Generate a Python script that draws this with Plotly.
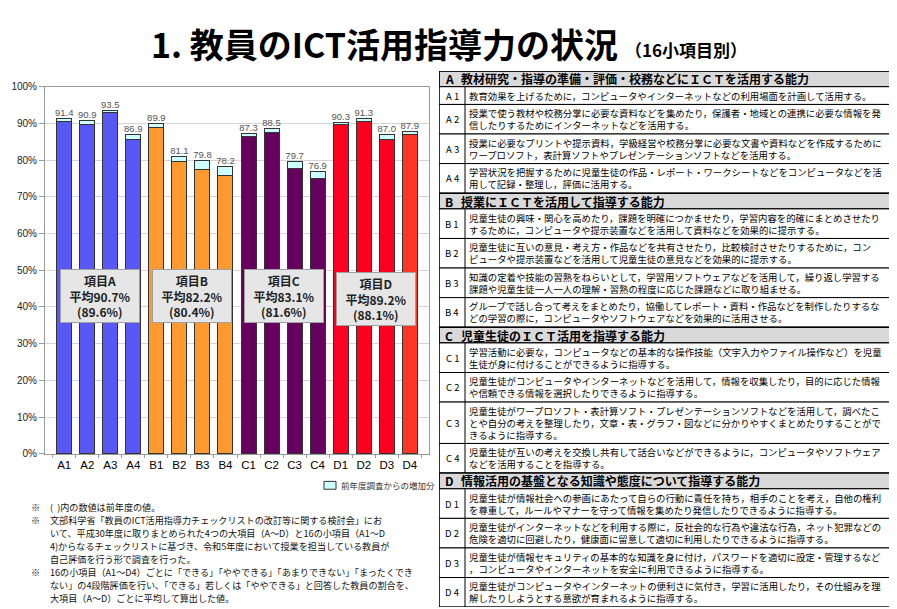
import plotly.graph_objects as go

W, H = 897, 609
JP = "Noto Sans CJK JP"
AR = "Liberation Sans, Arial"

# ---- chart data ----
codes = ['A1', 'A2', 'A3', 'A4', 'B1', 'B2', 'B3', 'B4',
         'C1', 'C2', 'C3', 'C4', 'D1', 'D2', 'D3', 'D4']
this_year = [91.4, 90.9, 93.5, 86.9, 89.9, 81.1, 79.8, 78.2,
             87.3, 88.5, 79.7, 76.9, 90.3, 91.3, 87.0, 87.9]
prev_year = [90.4, 89.7, 93.0, 85.6, 89.0, 79.5, 77.5, 75.9,
             86.3, 87.5, 77.7, 74.9, 89.6, 90.4, 85.7, 87.0]

group_letters = ['A', 'B', 'C', 'D']
group_avg = [90.7, 82.2, 83.1, 89.2]
group_prev_avg = [89.6, 80.4, 81.6, 88.1]

bar_colors = ['#5858F6'] * 4 + ['#FF9A30'] * 4 + ['#66005E'] * 4 + ['#FF0020'] * 3 + ['#FF3526']

# ---- table data ----
header_titles = [
    '教材研究・指導の準備・評価・校務などにＩＣＴを活用する能力',
    '授業にＩＣＴを活用して指導する能力',
    '児童生徒のＩＣＴ活用を指導する能力',
    '情報活用の基盤となる知識や態度について指導する能力',
]
item_texts = [
    '教育効果を上げるために，コンピュータやインターネットなどの利用場面を計画して活用する。',
    '授業で使う教材や校務分掌に必要な資料などを集めたり，保護者・地域との連携に必要な情報を発<br>信したりするためにインターネットなどを活用する。',
    '授業に必要なプリントや提示資料，学級経営や校務分掌に必要な文書や資料などを作成するために<br>ワープロソフト，表計算ソフトやプレゼンテーションソフトなどを活用する。',
    '学習状況を把握するために児童生徒の作品・レポート・ワークシートなどをコンピュータなどを活<br>用して記録・整理し，評価に活用する。',
    '児童生徒の興味・関心を高めたり，課題を明確につかませたり，学習内容を的確にまとめさせたり<br>するために，コンピュータや提示装置などを活用して資料などを効果的に提示する。',
    '児童生徒に互いの意見・考え方・作品などを共有させたり，比較検討させたりするために，コン<br>ピュータや提示装置などを活用して児童生徒の意見などを効果的に提示する。',
    '知識の定着や技能の習熟をねらいとして，学習用ソフトウェアなどを活用して，繰り返し学習する<br>課題や児童生徒一人一人の理解・習熟の程度に応じた課題などに取り組ませる。',
    'グループで話し合って考えをまとめたり，協働してレポート・資料・作品などを制作したりするな<br>どの学習の際に，コンピュータやソフトウェアなどを効果的に活用させる。',
    '学習活動に必要な，コンピュータなどの基本的な操作技能（文字入力やファイル操作など）を児童<br>生徒が身に付けることができるように指導する。',
    '児童生徒がコンピュータやインターネットなどを活用して，情報を収集したり，目的に応じた情報<br>や信頼できる情報を選択したりできるように指導する。',
    '児童生徒がワープロソフト・表計算ソフト・プレゼンテーションソフトなどを活用して，調べたこ<br>とや自分の考えを整理したり，文章・表・グラフ・図などに分かりやすくまとめたりすることがで<br>きるように指導する。',
    '児童生徒が互いの考えを交換し共有して話合いなどができるように，コンピュータやソフトウェア<br>などを活用することを指導する。',
    '児童生徒が情報社会への参画にあたって自らの行動に責任を持ち，相手のことを考え，自他の権利<br>を尊重して，ルールやマナーを守って情報を集めたり発信したりできるように指導する。',
    '児童生徒がインターネットなどを利用する際に，反社会的な行為や違法な行為，ネット犯罪などの<br>危険を適切に回避したり，健康面に留意して適切に利用したりできるように指導する。',
    '児童生徒が情報セキュリティの基本的な知識を身に付け，パスワードを適切に設定・管理するなど<br>，コンピュータやインターネットを安全に利用できるように指導する。',
    '児童生徒がコンピュータやインターネットの便利さに気付き，学習に活用したり，その仕組みを理<br>解したりしようとする意欲が育まれるように指導する。',
]

notes = [
    ('※', '(  )内の数値は前年度の値。'),
    ('※', '文部科学省「教員のICT活用指導力チェックリストの改訂等に関する検討会」にお'),
    ('', 'いて、平成30年度に取りまとめられた4つの大項目（A～D）と16の小項目（A1～D'),
    ('', '4)からなるチェックリストに基づき、令和5年度において授業を担当している教員が'),
    ('', '自己評価を行う形で調査を行った。'),
    ('※', '16の小項目（A1～D4）ごとに「できる」「ややできる」「あまりできない」「まったくでき'),
    ('', 'ない」の4段階評価を行い、「できる」若しくは「ややできる」と回答した教員の割合を、'),
    ('', '大項目（A～D）ごとに平均して算出した値。'),
]


def px(x):
    return x / W


def py(y):
    return 1 - y / H


fig = go.Figure()

fig.add_trace(go.Bar(x=codes, y=prev_year, marker=dict(color=bar_colors, line=dict(color='#333333', width=1)),
                     showlegend=False, hoverinfo='skip'))
fig.add_trace(go.Bar(x=codes, y=[t - p for t, p in zip(this_year, prev_year)],
                     marker=dict(color='#CCFFFF', line=dict(color='#333333', width=1)),
                     showlegend=False, hoverinfo='skip'))
fig.add_trace(go.Scatter(x=codes, y=this_year, mode='text', text=['%.1f' % v for v in this_year],
                         textposition='top center', textfont=dict(family=AR, size=9.5, color='#555555'),
                         showlegend=False, hoverinfo='skip'))

annotations = []
shapes = []

# group average boxes
for g, letter in enumerate(group_letters):
    annotations.append(dict(
        x=4 * g + 1.55, y=43 if g < 3 else 42.3, xref='x', yref='y',
        text='<b>項目%s<br>平均%.1f%%<br>(%.1f%%)</b>' % (letter, group_avg[g], group_prev_avg[g]),
        showarrow=False, font=dict(family=JP, size=12, color='#222222'), width=74,
        bgcolor='#E6E6E6', bordercolor='#A0A0A0', borderwidth=1, borderpad=2,
    ))

# legend
shapes.append(dict(type='rect', xref='paper', yref='paper', x0=px(316), x1=px(328), y0=py(485), y1=py(477),
                   fillcolor='#CCFFFF', line=dict(color='#333333', width=1)))
annotations.append(dict(x=px(331), y=py(481), xref='paper', yref='paper', xanchor='left', yanchor='middle',
                        text='前年度調査からの増加分', showarrow=False,
                        font=dict(family=JP, size=8.5, color='#333333')))

# title
annotations.append(dict(x=px(612), y=py(31), xref='paper', yref='paper', xanchor='right', yanchor='middle',
                        text='<b>1. 教員のICT活用指導力の状況</b>', showarrow=False,
                        font=dict(family=JP, size=34, color='black')))
annotations.append(dict(x=px(615), y=py(37), xref='paper', yref='paper', xanchor='left', yanchor='middle',
                        text='<b>（16小項目別）</b>', showarrow=False,
                        font=dict(family=JP, size=17, color='black')))

# notes
for i, (mark, line) in enumerate(notes):
    yy = py(503 + i * 13.2)
    if mark:
        annotations.append(dict(x=px(21), y=yy, xref='paper', yref='paper', xanchor='left', yanchor='middle',
                                text=mark, showarrow=False, font=dict(family=JP, size=9.1, color='#111111')))
    annotations.append(dict(x=px(40), y=yy, xref='paper', yref='paper', xanchor='left', yanchor='middle',
                            text=line, showarrow=False, font=dict(family=JP, size=9.1, color='#111111')))

# table (drawn on its own axes, units = pixels)
TW = 463
code_w = 26
y = 0
for g, letter in enumerate(group_letters):
    h = 16
    shapes.append(dict(type='rect', xref='x2', yref='y2', x0=0, x1=TW, y0=y, y1=y + h,
                       fillcolor='#D9D9D9', line=dict(color='black', width=1.5)))
    annotations.append(dict(x=4, y=y + h / 2, xref='x2', yref='y2', xanchor='left', yanchor='middle',
                            text='<b>%s</b>' % letter, showarrow=False, font=dict(family=JP, size=12, color='black')))
    annotations.append(dict(x=20, y=y + h / 2, xref='x2', yref='y2', xanchor='left', yanchor='middle',
                            text='<b>%s</b>' % header_titles[g], showarrow=False,
                            font=dict(family=JP, size=12, color='black')))
    y += h
    for k in range(4):
        idx = 4 * g + k
        txt = item_texts[idx]
        n = txt.count('<br>') + 1
        h = 18 if n == 1 else 6 + 12 * n
        shapes.append(dict(type='rect', xref='x2', yref='y2', x0=0, x1=TW, y0=y, y1=y + h,
                           fillcolor='white', line=dict(color='black', width=1)))
        shapes.append(dict(type='line', xref='x2', yref='y2', x0=code_w, x1=code_w, y0=y, y1=y + h,
                           line=dict(color='black', width=1)))
        annotations.append(dict(x=code_w / 2, y=y + h / 2, xref='x2', yref='y2', xanchor='center',
                                yanchor='middle', text='%s %s' % (letter, k + 1), showarrow=False,
                                font=dict(family=JP, size=9.5, color='black')))
        annotations.append(dict(x=code_w + 2, y=y + h / 2, xref='x2', yref='y2', xanchor='left',
                                yanchor='middle', align='left', text=txt, showarrow=False,
                                font=dict(family=JP, size=9.4, color='black')))
        y += h
table_h = y
shapes.append(dict(type='rect', xref='x2', yref='y2', x0=0, x1=TW, y0=0, y1=table_h,
                   line=dict(color='black', width=1.2)))

fig.add_trace(go.Scatter(x=[0, TW], y=[0, table_h], xaxis='x2', yaxis='y2', mode='markers',
                         marker=dict(opacity=0), showlegend=False, hoverinfo='skip'))

fig.update_layout(
    width=W, height=H,
    margin=dict(l=0, r=0, t=0, b=0),
    paper_bgcolor='white', plot_bgcolor='white',
    barmode='stack', bargap=0.35,
    showlegend=False,
    xaxis=dict(domain=[px(37), px(421)], tickfont=dict(family=AR, size=11.5, color='black'), tickangle=0,
               showline=True, linecolor='#9A9A9A', mirror=True, ticks='outside', tickson='boundaries',
               ticklen=3, tickcolor='#9A9A9A', showgrid=False, fixedrange=True),
    yaxis=dict(domain=[py(449), py(75)], range=[0, 100], dtick=10, ticksuffix='%',
               tickfont=dict(family=AR, size=10, color='#222222'), showgrid=True, gridcolor='#D4D4D4',
               showline=True, linecolor='#9A9A9A', mirror=True, ticks='outside', ticklen=5,
               tickcolor='#9A9A9A', zeroline=False, fixedrange=True),
    xaxis2=dict(domain=[px(431), px(894)], range=[0, TW], visible=False, anchor='y2', fixedrange=True),
    yaxis2=dict(domain=[py(605), py(59)], range=[table_h, 0], visible=False, anchor='x2', fixedrange=True),
    annotations=annotations,
    shapes=shapes,
)

fig.write_html("out.html")
